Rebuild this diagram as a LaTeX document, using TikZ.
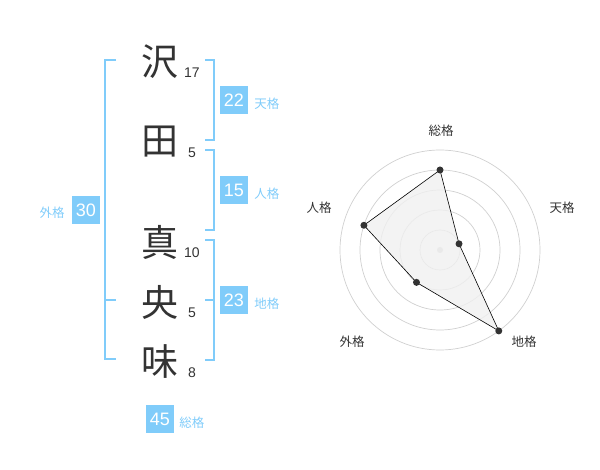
\documentclass[tikz,border=0pt]{standalone}
\usepackage{fontspec}
\setmainfont{Liberation Sans}
\newfontfamily\jpfont{Noto Sans CJK JP}
\usetikzlibrary{positioning,calc}
\definecolor{kakublue}{RGB}{128,204,250}
\definecolor{inkgray}{RGB}{51,51,51}
\definecolor{ringgray}{RGB}{208,208,208}
\definecolor{fillgray}{RGB}{240,240,240}

\begin{document}
\begin{tikzpicture}[
    x=1pt,y=-1pt,
    kanji/.style={inner sep=0pt,text=inkgray,font=\jpfont\fontsize{37}{37}\selectfont},
    strokes/.style={inner sep=0pt,text=inkgray,font=\fontsize{14}{14}\selectfont},
    kakubox/.style={fill=kakublue,text=white,minimum size=28pt,inner sep=0pt,font=\fontsize{18}{18}\selectfont},
    kakulabel/.style={inner sep=0pt,text=kakublue,font=\jpfont\fontsize{12.5}{12.5}\selectfont},
    bracket/.style={draw=kakublue,line width=2pt},
    axislabel/.style={inner sep=0pt,text=inkgray,font=\jpfont\fontsize{12.5}{12.5}\selectfont}
]
\useasboundingbox (0,0) rectangle (600,470);

% Name
\node[kanji] (sawa) at (160,62) {沢};
\node[kanji] (ta) at (160,142) {田};
\node[kanji] (ma) at (160,242) {真};
\node[kanji] (o) at (160,302) {央};
\node[kanji] (mi) at (160,362) {味};

% Strokes
\node[strokes] (n17) at (192,73) {17};
\node[strokes] (n5a) at (192,153) {5};
\node[strokes] (n10) at (192,253) {10};
\node[strokes] (n5b) at (192,313) {5};
\node[strokes] (n8) at (192,373) {8};

% Brackets
\draw[bracket] (116,60) -- (105,60) -- (105,359) -- (116,359);
\draw[bracket] (105,300) -- (116,300);
\draw[bracket] (205,60) -- (214,60) -- (214,140) -- (205,140);
\draw[bracket] (205,150) -- (214,150) -- (214,230) -- (205,230);
\draw[bracket] (205,240) -- (214,240) -- (214,360) -- (205,360);
\draw[bracket] (205,300) -- (214,300);

% Totals
\node[kakubox] (ten) at (234,100) {22};
\node[kakulabel,right=6pt of ten,yshift=-4pt] {天格};
\node[kakubox] (jin) at (234,190) {15};
\node[kakulabel,right=6pt of jin,yshift=-4pt] {人格};
\node[kakubox] (chi) at (234,300) {23};
\node[kakulabel,right=6pt of chi,yshift=-4pt] {地格};
\node[kakubox] (gai) at (86,210) {30};
\node[kakulabel,left=7pt of gai,yshift=-3pt] {外格};
\node[kakubox] (sou) at (160,419) {45};
\node[kakulabel,right=5pt of sou,yshift=-4pt] {総格};

% Radar chart (y points down, so angles are negated)
\coordinate (radar) at (440,250);
\foreach \r in {20,40,60,80,100}
    \draw[ringgray,line width=0.7pt] (radar) circle (\r);
\fill[ringgray] (radar) circle (3);
\foreach \ang/\val/\nm in {90/4/psou,18/1/pten,-54/5/pchi,-126/2/pgai,162/4/pjin}
    \coordinate (\nm) at ($(radar)+(-\ang:\val*20)$);
\draw[fill=fillgray,fill opacity=0.8,draw=black,line width=0.6pt] (psou) -- (pten) -- (pchi) -- (pgai) -- (pjin) -- cycle;
\foreach \nm in {psou,pten,pchi,pgai,pjin}
    \fill[inkgray] (\nm) circle (3.5);

% Axis labels
\node[axislabel] (lsou) at ($(radar)+(1,-119)$) {総格};
\node[axislabel] (lten) at ($(radar)+(122,-42)$) {天格};
\node[axislabel] (lchi) at ($(radar)+(84,92)$) {地格};
\node[axislabel] (lgai) at ($(radar)+(-88,92)$) {外格};
\node[axislabel] (ljin) at ($(radar)+(-121,-42)$) {人格};

\end{tikzpicture}
\end{document}
